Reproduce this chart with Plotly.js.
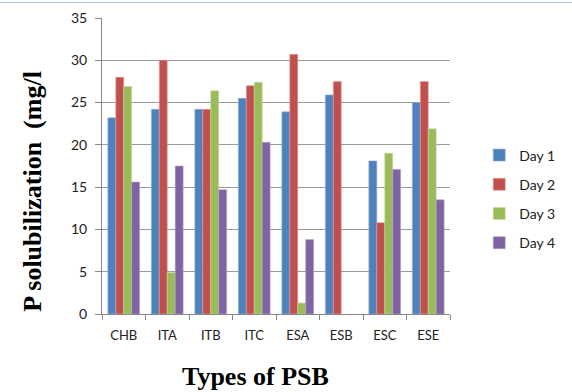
<!DOCTYPE html>
<html>
<head>
<meta charset="utf-8">
<script src="https://cdn.plot.ly/plotly-3.0.1.min.js"></script>
<style>
html,body{margin:0;padding:0;background:#fff;}
#wrap{position:relative;width:572px;height:392px;}
#chart{width:572px;height:392px;}
#topline{position:absolute;left:0;top:2px;width:572px;height:1px;background:#a9c4e4;}
</style>
</head>
<body>
<div id="wrap"><div id="chart"></div><div id="topline"></div></div>
<script>
var categories = ["CHB","ITA","ITB","ITC","ESA","ESB","ESC","ESE"];
var seriesNames = ["Day 1","Day 2","Day 3","Day 4"];
var day1 = [23.2, 24.2, 24.2, 25.5, 23.9, 25.9, 18.1, 25.0];
var day2 = [28.0, 30.0, 24.2, 27.0, 30.7, 27.5, 10.8, 27.5];
var day3 = [26.9, 4.9, 26.4, 27.4, 1.3, null, 19.0, 21.9];
var day4 = [15.6, 17.5, 14.7, 20.3, 8.8, null, 17.1, 13.5];
var colors = ["#4F81BD","#C0504D","#9BBB59","#8064A2"];
var edgeColors = ["#8fb0d9","#e0a09e","#c6dca3","#b3a2c9"];
var yTicks = [0,5,10,15,20,25,30,35];

var allSeries = [day1, day2, day3, day4];
var traces = allSeries.map(function(vals, i){
  return {
    type: "bar",
    name: seriesNames[i],
    x: categories,
    y: vals,
    legendgroup: "g" + i,
    marker: {color: colors[i], line: {color: edgeColors[i], width: 0.6}}
  };
});

var layout = {
  width: 572, height: 392,
  margin: {l: 102, r: 89, t: 18, b: 78},
  paper_bgcolor: "#fff", plot_bgcolor: "#fff",
  barmode: "group",
  bargap: 0.27,
  bargroupgap: 0,
  showlegend: true,
  legend: {
    x: 1.084, xanchor: "left", y: (314-199)/296, yanchor: "middle",
    font: {family: "Lato, 'Open Sans', sans-serif", size: 14, color: "#222"},
    traceorder: "grouped", tracegroupgap: 8,
    itemwidth: 30, bgcolor: "rgba(0,0,0,0)"
  },
  xaxis: {
    type: "category",
    showgrid: false,
    showline: true, linecolor: "#888", linewidth: 1,
    ticks: "outside", tickson: "boundaries", ticklen: 5, tickcolor: "#888",
    ticklabelstandoff: 9,
    tickfont: {family: "Lato, 'Open Sans', sans-serif", size: 13, color: "#222"},
    fixedrange: true
  },
  yaxis: {
    range: [0, 35],
    tickvals: yTicks,
    ticktext: yTicks.map(String),
    showgrid: true, gridcolor: "#9a9a9a", gridwidth: 1,
    showline: true, linecolor: "#888", linewidth: 1,
    zeroline: false,
    ticks: "outside", ticklen: 6, tickcolor: "#888",
    ticklabelstandoff: 5,
    tickfont: {family: "Lato, 'Open Sans', sans-serif", size: 14, color: "#222"},
    fixedrange: true
  },
  annotations: [
    {text: "<b>P solubilization  (mg/l</b>", xref: "paper", yref: "paper",
     x: -77/381, y: (314-191)/296, xanchor: "center", yanchor: "middle",
     textangle: -90, showarrow: false,
     font: {family: "'Liberation Serif', 'Times New Roman', serif", size: 26, color: "#000"}},
    {text: "<b>Types of PSB</b>", xref: "paper", yref: "paper",
     x: (270-102)/381, y: -(376-314)/296, xanchor: "center", yanchor: "middle",
     showarrow: false,
     font: {family: "'Liberation Serif', 'Times New Roman', serif", size: 26, color: "#000"}}
  ]
};

Plotly.newPlot("chart", traces, layout, {displayModeBar: false, staticPlot: true});
</script>
</body>
</html>
